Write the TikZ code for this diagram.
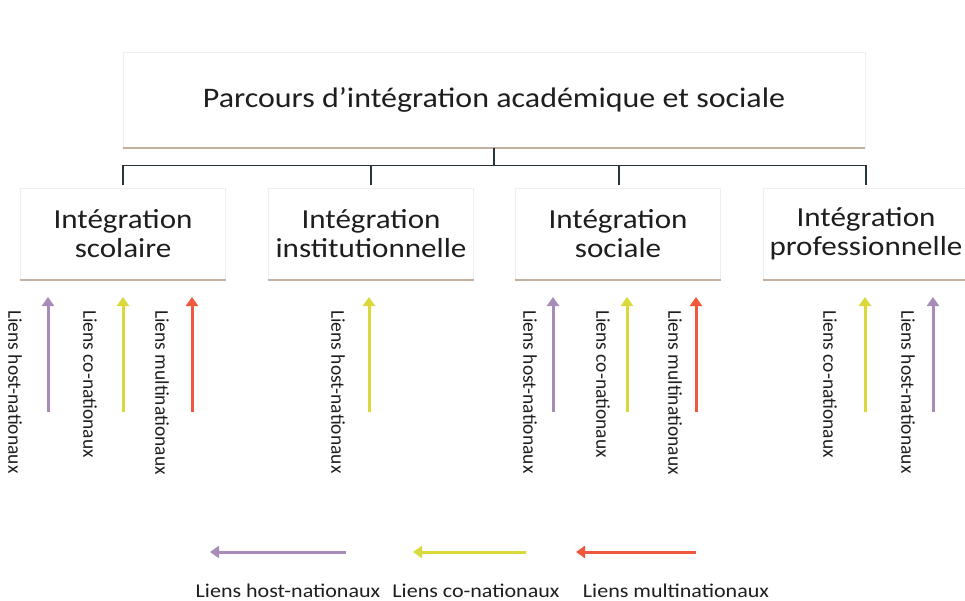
\documentclass[tikz,border=0pt]{standalone}
\usepackage{fontspec}
\setmainfont[FakeStretch=1.13]{Carlito}
\newfontfamily\vfont{Carlito}
\usetikzlibrary{arrows.meta}
\definecolor{tanline}{RGB}{196,176,158}
\definecolor{boxedge}{RGB}{238,238,238}
\definecolor{treeline}{RGB}{40,52,60}
\definecolor{lpurple}{RGB}{168,140,184}
\definecolor{lyellow}{RGB}{218,216,58}
\definecolor{lred}{RGB}{240,88,62}
\definecolor{txt}{RGB}{30,30,30}
\tikzset{
  box/.style={draw=boxedge, fill=white, inner sep=0pt, text=txt, align=center},
  topbox/.style={box, minimum width=742pt, minimum height=96pt, font=\fontsize{28.3}{32}\selectfont},
  subbox/.style={box, minimum width=205pt, minimum height=92pt, font=\fontsize{27.5}{29}\selectfont},
  underline/.style={draw=tanline, line width=1.6pt},
  tree/.style={draw=treeline, line width=1.3pt},
  link/.style={line width=3pt, -{Triangle[width=12pt,length=9pt]}},
  vlabel/.style={rotate=-90, anchor=west, inner sep=0pt, text=txt, font=\vfont\fontsize{19.5}{22}\selectfont},
  hlabel/.style={inner sep=0pt, text=txt, font=\fontsize{19.5}{22}\selectfont},
}
\begin{document}
\begin{tikzpicture}[x=1pt,y=-1pt]
\useasboundingbox (0,0) rectangle (965,601);
% top box
\node[topbox] (top) at (494,100) {Parcours d’intégration académique et sociale};
\draw[underline] (top.south west) -- (top.south east);
% sub boxes
\node[subbox] (s1) at (123,234) {Intégration\\scolaire};
\node[subbox] (s2) at (371,234) {Intégration\\institutionnelle};
\node[subbox] (s3) at (618,234) {Intégration\\sociale};
\node[subbox] (s4) at (866,234) {Intégration\\professionnelle};
\foreach \n in {s1,s2,s3,s4}{\draw[underline] (\n.south west) -- (\n.south east);}
% tree
\coordinate (hub) at ([yshift=-17pt]top.south);
\coordinate (d1) at (123,185);
\coordinate (d2) at (371,185);
\coordinate (d3) at (619,185);
\coordinate (d4) at (866,185);
\draw[tree] (top.south) -- (hub);
\draw[tree] (d1) |- (hub) -| (d4);
\draw[tree] (d2) -- (d2 |- hub);
\draw[tree] (d3) -- (d3 |- hub);
% arrows scolaire
\coordinate (a1b) at (48,412); \coordinate (a1t) at (48,297);
\coordinate (a2b) at (123,412); \coordinate (a2t) at (123,297);
\coordinate (a3b) at (192,412); \coordinate (a3t) at (192,297);
\draw[link,lpurple] (a1b) -- (a1t);
\draw[link,lyellow] (a2b) -- (a2t);
\draw[link,lred] (a3b) -- (a3t);
\node[vlabel] (l1) at (15,310) {Liens host-nationaux};
\node[vlabel] (l2) at (90,310) {Liens co-nationaux};
\node[vlabel] (l3) at (162,310) {Liens multinationaux};
% institutionnelle
\coordinate (b1b) at (369,412); \coordinate (b1t) at (369,297);
\draw[link,lyellow] (b1b) -- (b1t);
\node[vlabel] (l4) at (338,310) {Liens host-nationaux};
% sociale
\coordinate (c1b) at (553,412); \coordinate (c1t) at (553,297);
\coordinate (c2b) at (627,412); \coordinate (c2t) at (627,297);
\coordinate (c3b) at (696,412); \coordinate (c3t) at (696,297);
\draw[link,lpurple] (c1b) -- (c1t);
\draw[link,lyellow] (c2b) -- (c2t);
\draw[link,lred] (c3b) -- (c3t);
\node[vlabel] (l5) at (530,310) {Liens host-nationaux};
\node[vlabel] (l6) at (603,310) {Liens co-nationaux};
\node[vlabel] (l7) at (675,310) {Liens multinationaux};
% professionnelle
\coordinate (e1b) at (865,412); \coordinate (e1t) at (865,297);
\coordinate (e2b) at (933,412); \coordinate (e2t) at (933,297);
\draw[link,lyellow] (e1b) -- (e1t);
\draw[link,lpurple] (e2b) -- (e2t);
\node[vlabel] (l8) at (830,310) {Liens co-nationaux};
\node[vlabel] (l9) at (908,310) {Liens host-nationaux};
% legend
\coordinate (g1r) at (346,552); \coordinate (g1l) at (210,552);
\coordinate (g2r) at (526,552); \coordinate (g2l) at (413,552);
\coordinate (g3r) at (696,552); \coordinate (g3l) at (576,552);
\draw[link,lpurple] (g1r) -- (g1l);
\draw[link,lyellow] (g2r) -- (g2l);
\draw[link,lred] (g3r) -- (g3l);
\node[hlabel] (k1) at (288,591) {Liens host-nationaux};
\node[hlabel] (k2) at (476,591) {Liens co-nationaux};
\node[hlabel] (k3) at (676,591) {Liens multinationaux};
\end{tikzpicture}
\end{document}
